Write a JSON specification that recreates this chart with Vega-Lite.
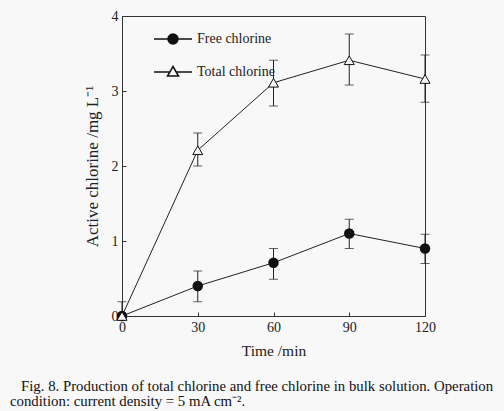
{
  "$schema": "https://vega.github.io/schema/vega-lite/v6.json",
  "width": 303,
  "height": 300,
  "autosize": "none",
  "padding": {"left": 122, "top": 16, "right": 79, "bottom": 95},
  "background": "#f8f8f8",
  "title": {
    "text": ["\u2800Fig. 8. Production of total chlorine and free chlorine in bulk solution. Operation", "condition: current density = 5 mA cm\u207b\u00b2."],
    "orient": "bottom",
    "anchor": "start",
    "frame": "group",
    "dx": -112,
    "offset": 20,
    "font": "Liberation Serif",
    "fontSize": 14.8,
    "fontWeight": "normal",
    "lineHeight": 15.5,
    "color": "#111"
  },
  "data": {
    "values": [
      {"series": "Free chlorine", "time": 0, "value": 0, "lo": 0, "hi": 0.19},
      {"series": "Free chlorine", "time": 30, "value": 0.40, "lo": 0.19, "hi": 0.60},
      {"series": "Free chlorine", "time": 60, "value": 0.71, "lo": 0.49, "hi": 0.90},
      {"series": "Free chlorine", "time": 90, "value": 1.10, "lo": 0.90, "hi": 1.29},
      {"series": "Free chlorine", "time": 120, "value": 0.90, "lo": 0.70, "hi": 1.09},
      {"series": "Total chlorine", "time": 0, "value": 0, "lo": 0, "hi": 0},
      {"series": "Total chlorine", "time": 30, "value": 2.21, "lo": 2.00, "hi": 2.44},
      {"series": "Total chlorine", "time": 60, "value": 3.11, "lo": 2.80, "hi": 3.41},
      {"series": "Total chlorine", "time": 90, "value": 3.41, "lo": 3.08, "hi": 3.76},
      {"series": "Total chlorine", "time": 120, "value": 3.16, "lo": 2.85, "hi": 3.48}
    ]
  },
  "encoding": {
    "x": {
      "field": "time", "type": "quantitative",
      "scale": {"domain": [0, 120], "nice": false},
      "axis": {"values": [0, 30, 60, 90, 120], "title": "Time /min", "titleFontSize": 15.5, "labelFlush": false, "tickSize": -4, "labelPadding": 8, "titlePadding": 9}
    }
  },
  "layer": [
    {
      "mark": {"type": "line", "color": "#222", "strokeWidth": 1},
      "encoding": {
        "y": {
          "field": "value", "type": "quantitative", "title": "Active chlorine /mg L\u207b\u00b9",
          "scale": {"domain": [0, 4], "nice": false},
          "axis": {"values": [0, 1, 2, 3, 4], "format": "d", "labelFlush": false, "tickSize": -4, "labelPadding": 8, "titlePadding": 10}
        },
        "detail": {"field": "series"}
      }
    },
    {
      "mark": {"type": "errorbar", "color": "#222", "thickness": 1, "ticks": {"size": 9, "color": "#222"}},
      "encoding": {
        "y": {"field": "lo", "type": "quantitative", "title": "Active chlorine /mg L\u207b\u00b9"},
        "y2": {"field": "hi"},
        "detail": {"field": "series"}
      }
    },
    {
      "transform": [{"filter": "datum.series === 'Free chlorine'"}],
      "mark": {"type": "point", "shape": "circle", "filled": true, "color": "#111", "opacity": 1, "size": 110},
      "encoding": {"y": {"field": "value", "type": "quantitative", "title": "Active chlorine /mg L\u207b\u00b9"}}
    },
    {
      "transform": [{"filter": "datum.series === 'Total chlorine'"}],
      "mark": {"type": "point", "shape": "triangle-up", "fill": "#f8f8f8", "stroke": "#111", "strokeWidth": 1, "opacity": 1, "fillOpacity": 1, "size": 100},
      "encoding": {"y": {"field": "value", "type": "quantitative", "title": "Active chlorine /mg L\u207b\u00b9"}}
    },
    {
      "transform": [{"filter": "datum.time < 0"}],
      "mark": {"type": "point", "filled": true, "stroke": "#111", "strokeWidth": 1, "opacity": 1},
      "encoding": {
        "y": {"field": "value", "type": "quantitative", "title": "Active chlorine /mg L\u207b\u00b9"},
        "shape": {
          "field": "series", "type": "nominal",
          "scale": {"domain": ["Free chlorine", "Total chlorine"], "range": ["M-1.9,0H1.9M-0.5,0A0.5,0.5,0,1,0,0.5,0A0.5,0.5,0,1,0,-0.5,0Z", "M-1.9,0H-0.32M0.32,0H1.9M0,-0.55L0.55,0.4L-0.55,0.4Z"]},
          "legend": {
            "title": null,
            "encode": {
              "symbols": {
                "update": {
                  "stroke": {"value": "#111"},
                  "strokeWidth": {"value": 1},
                  "opacity": {"value": 1},
                  "fillOpacity": {"value": 1},
                  "strokeOpacity": {"value": 1}
                }
              }
            }
          }
        },
        "fill": {
          "field": "series", "type": "nominal",
          "scale": {"domain": ["Free chlorine", "Total chlorine"], "range": ["#111111", "#f8f8f8"]},
          "legend": {"title": null}
        }
      }
    }
  ],
  "config": {
    "view": {"stroke": "#333", "strokeWidth": 1},
    "axis": {
      "grid": false,
      "domainColor": "#333",
      "tickColor": "#333",
      "labelFont": "Liberation Serif",
      "labelFontSize": 14,
      "labelColor": "#222",
      "titleFont": "Liberation Serif",
      "titleFontSize": 17,
      "titleFontWeight": "normal",
      "titleColor": "#222"
    },
    "legend": {
      "orient": "none",
      "legendX": 40,
      "legendY": 12,
      "symbolSize": 400,
      "labelOffset": 13,
      "rowPadding": 14,
      "labelFont": "Liberation Serif",
      "labelFontSize": 14,
      "labelColor": "#222",
      "padding": 0
    }
  }
}
